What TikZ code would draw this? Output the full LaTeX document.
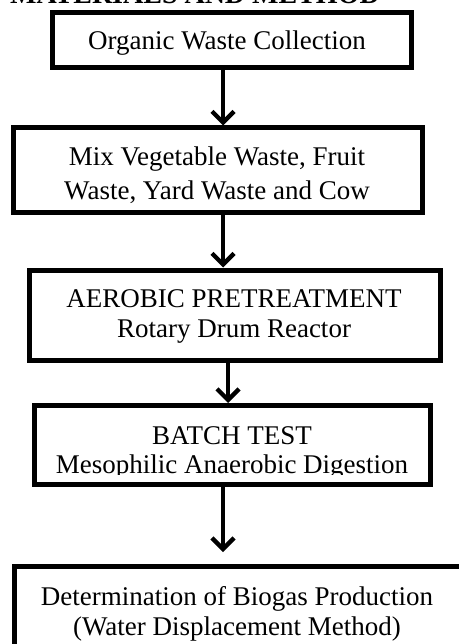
\documentclass[tikz,border=0pt]{standalone}
\usepackage{fontspec}
\setmainfont{Liberation Serif}
\usetikzlibrary{arrows.meta}
\begin{document}
\begin{tikzpicture}[x=1pt,y=-1pt,
  box/.style={draw, line width=5pt, rectangle, inner sep=0pt},
  txt/.style={anchor=base, inner sep=0pt, font=\fontsize{27}{34}\selectfont},
  flow/.style={line width=4.3pt, -{Straight Barb[length=11pt,width=22pt,line width=4.3pt]}}]
\useasboundingbox (0,0) rectangle (458,644);
% header (cut by the top edge)
\node[anchor=base east, inner sep=0pt, font=\fontsize{28}{30}\selectfont\bfseries] (hdr) at (380,3.5) {MATERIALS AND METHOD};
% boxes
\node[box, minimum width=359pt, minimum height=55.5pt] (b1) at (231.5,40.25) {};
\node[box, minimum width=409pt, minimum height=84pt] (b2) at (217.5,170) {};
\node[box, minimum width=411pt, minimum height=90pt] (b3) at (235,315) {};
\node[box, minimum width=396pt, minimum height=78.5pt] (b4) at (232.5,444.75) {};
\node[box, minimum width=465.5pt, minimum height=104pt] (b5) at (247.25,618) {};
% texts
\node[txt] (t1) at (227,50) {Organic Waste Collection};
\node[txt] (t2a) at (217,166) {Mix Vegetable Waste, Fruit};
\node[txt] (t2b) at (217,200) {Waste, Yard Waste and Cow};
\node[txt] (t3a) at (234,307) {AEROBIC PRETREATMENT};
\node[txt] (t3b) at (234,337) {Rotary Drum Reactor};
\node[txt] (t4a) at (232,444) {BATCH TEST};
\begin{scope}
\clip (40,450) rectangle (425,474.5);
\node[txt] (t4b) at (232,473) {Mesophilic Anaerobic Digestion};
\end{scope}
\node[txt] (t5a) at (237,605) {Determination of Biogas Production};
\node[txt] (t5b) at (237,635) {(Water Displacement Method)};
% arrows
\coordinate (e4) at (223,552);
\draw[flow] (b1.south -| 223,0) -- (b2.north -| 223,0);
\draw[flow] (b2.south -| 223,0) -- (b3.north -| 223,0);
\draw[flow] (b3.south -| 228,0) -- (b4.north -| 228,0);
\draw[flow] (b4.south -| 223,0) -- (e4);
\end{tikzpicture}
\end{document}
